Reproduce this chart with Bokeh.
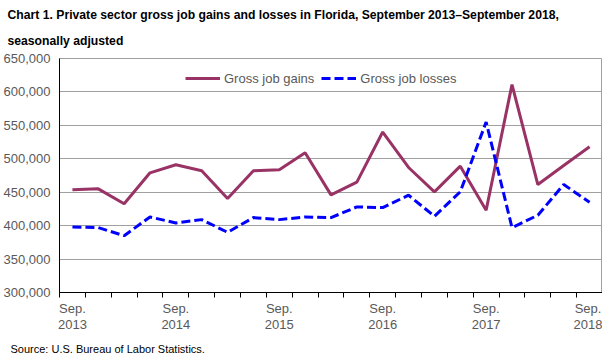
from bokeh.plotting import figure
from bokeh.models import (FixedTicker, NumeralTickFormatter, Legend, LegendItem,
                          Title, Range1d, ColumnDataSource)
from bokeh.embed import file_html
from bokeh.resources import INLINE

# Quarterly data, Sep 2013 - Sep 2018
quarters = list(range(21))
gains = [453600, 455000, 432700, 479000, 491000, 482000, 440600, 482000, 483500, 509000,
         446000, 465000, 540000, 487000, 450600, 489000, 423000, 611000, 461500, 490000,
         518000]
losses = [398000, 397000, 385000, 413000, 404000, 409000, 390000, 412000, 409000, 413000,
          412000, 428000, 427000, 445500, 414000, 450600, 555000, 397000, 415600, 461500,
          435000]
tick_positions = [0, 4, 8, 12, 16, 20]
tick_labels = ["Sep.\n2013", "Sep.\n2014", "Sep.\n2015", "Sep.\n2016", "Sep.\n2017", "Sep.\n2018"]
y_ticks = [300000, 350000, 400000, 450000, 500000, 550000, 600000, 650000]
title_lines = ["Chart 1. Private sector gross job gains and losses in Florida, September 2013\u2013September 2018,",
               "seasonally adjusted"]

GAIN_COLOR = "#993366"
LOSS_COLOR = "#0000FF"
TEXT_GRAY = "#595959"
FONT = "Liberation Sans"

src = ColumnDataSource(dict(x=quarters, gains=gains, losses=losses))

p = figure(frame_width=543, frame_height=234, output_backend="svg", toolbar_location=None,
           x_range=Range1d(-0.5, 20.5), y_range=Range1d(300000, 650000),
           min_border_left=59, min_border_right=0, min_border_top=58, min_border_bottom=58)

# outer title line
p.title.text = title_lines[0]
p.title.text_font = FONT
p.title.text_font_size = "12.2px"
p.title.text_font_style = "bold"
p.title.text_color = "black"
p.title.offset = -52
p.title.standoff = 0

# inner title line (closest to the plot)
t2 = Title(text=title_lines[1], align="left", text_font=FONT, text_font_size="12.2px",
           text_font_style="bold", text_color="black", offset=-52, standoff=21)
p.add_layout(t2, "above")

src_title = Title(text="Source: U.S. Bureau of Labor Statistics.", align="left",
                  text_font=FONT, text_font_size="11px", text_font_style="normal",
                  text_color="black", offset=-49, standoff=11)
p.add_layout(src_title, "below")

p.outline_line_color = "#a0a0a0"
p.background_fill_color = "white"
p.border_fill_color = "white"

# grids
p.xgrid.grid_line_color = None
p.ygrid.grid_line_color = "#a0a0a0"
p.ygrid.grid_line_width = 1
p.ygrid.ticker = FixedTicker(ticks=y_ticks)

# x axis
xa = p.xaxis[0]
xa.ticker = FixedTicker(ticks=tick_positions, minor_ticks=[q - 0.5 for q in range(22)])
xa.major_label_overrides = {pos: lab for pos, lab in zip(tick_positions, tick_labels)}
xa.major_tick_out = 0
xa.major_tick_in = 0
xa.minor_tick_out = 5
xa.minor_tick_in = 0
xa.minor_tick_line_color = "black"
xa.axis_line_color = "black"
xa.major_label_text_font = FONT
xa.major_label_text_font_size = "13px"
xa.major_label_text_color = TEXT_GRAY
xa.major_label_text_line_height = 1.1
xa.major_label_standoff = 3

# y axis
ya = p.yaxis[0]
ya.ticker = FixedTicker(ticks=y_ticks)
ya.formatter = NumeralTickFormatter(format="0,0")
ya.major_tick_out = 0
ya.major_tick_in = 0
ya.minor_tick_line_color = None
ya.axis_line_color = "black"
ya.major_label_text_font = FONT
ya.major_label_text_font_size = "13px"
ya.major_label_text_color = TEXT_GRAY
ya.major_label_standoff = 9

r1 = p.line("x", "gains", source=src, line_color=GAIN_COLOR, line_width=3)
r2 = p.line("x", "losses", source=src, line_color=LOSS_COLOR, line_width=3, line_dash="9 4")

legend = Legend(items=[LegendItem(label="Gross job gains", renderers=[r1]),
                       LegendItem(label="Gross job losses", renderers=[r2])],
                orientation="horizontal", location=(126, 206),
                glyph_width=35, glyph_height=16, label_height=16,
                label_standoff=4, spacing=7, padding=0, margin=0,
                border_line_color=None, background_fill_alpha=0,
                label_text_font=FONT, label_text_font_size="13px",
                label_text_color=TEXT_GRAY)
p.add_layout(legend, "center")

open("out.html", "w").write(file_html(p, INLINE))
